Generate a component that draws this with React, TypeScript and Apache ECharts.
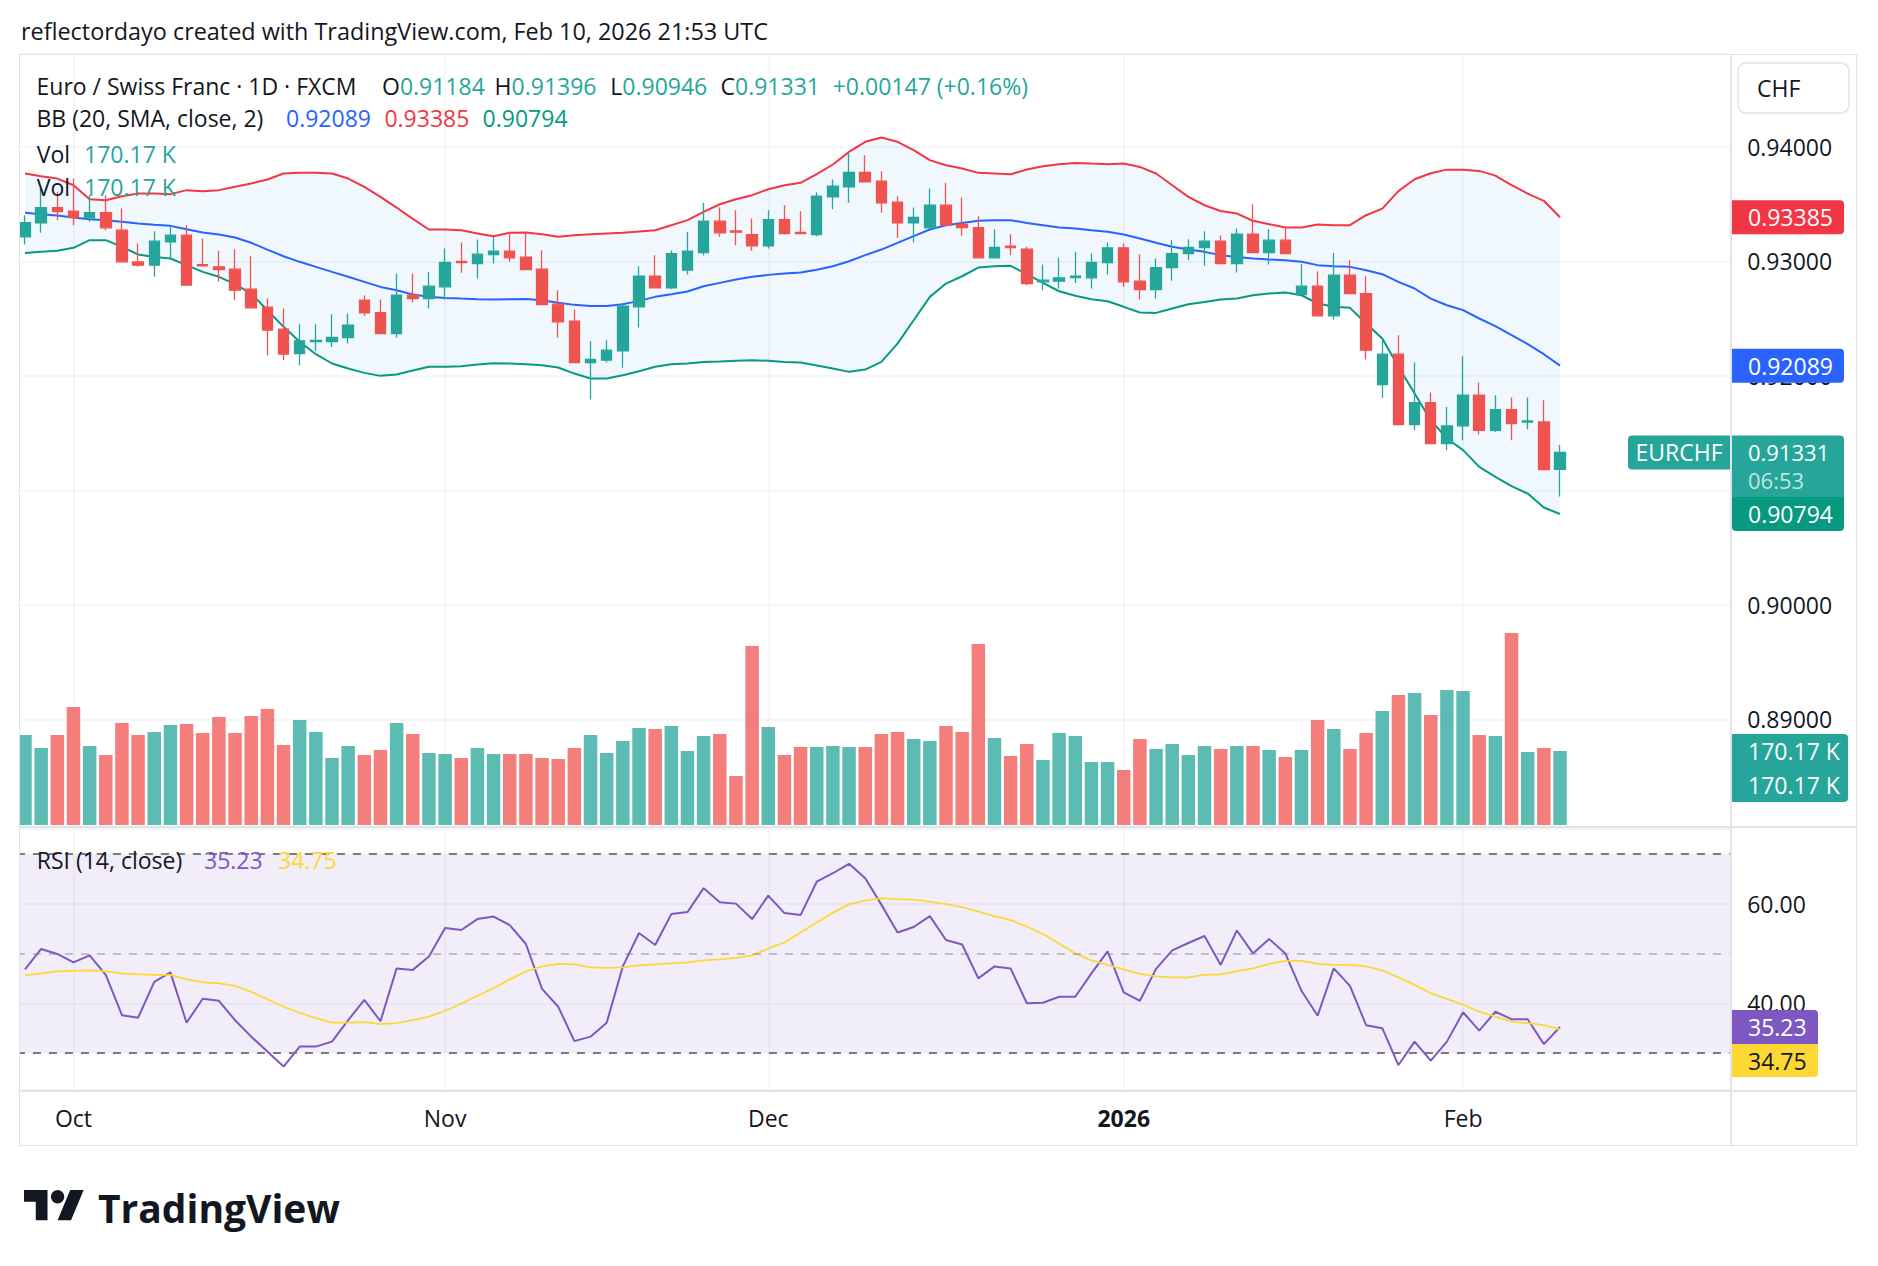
import React, { useEffect, useRef } from "react";
import * as echarts from "echarts";

// ---------- DATA ----------
const opens = [0.93214,0.93336,0.93470,0.93438,0.93380,0.93426,0.93272,0.92996,0.92967,0.93170,
0.93229,0.92972,0.92952,0.92932,0.92757,0.92600,0.92408,0.92195,0.92300,0.92300,
0.92335,0.92661,0.92553,0.92370,0.92704,0.92675,0.92777,0.92999,0.92981,0.93060,
0.93089,0.93036,0.92932,0.92626,0.92477,0.92116,0.92137,0.92218,0.92603,0.92870,
0.92769,0.92923,0.93077,0.93351,0.93266,0.93234,0.93135,0.93365,0.93252,0.93234,
0.93563,0.93650,0.93776,0.93700,0.93517,0.93336,0.93293,0.93491,0.93322,0.93295,
0.93031,0.93132,0.93106,0.92821,0.92827,0.92859,0.92856,0.92990,0.93118,0.92827,
0.92754,0.92946,0.93068,0.93121,0.93176,0.92981,0.93237,0.93077,0.93185,0.92710,
0.92783,0.92524,0.92879,0.92719,0.91924,0.92189,0.91575,0.91767,0.91409,0.91563,
0.91831,0.91525,0.91706,0.91596,0.91598,0.91184];

const highs = [0.93403,0.93636,0.93607,0.93723,0.93578,0.93578,0.93461,0.93156,0.93263,0.93301,
0.93316,0.93200,0.93092,0.93106,0.93045,0.92675,0.92588,0.92451,0.92451,0.92539,
0.92544,0.92704,0.92667,0.92894,0.92894,0.92908,0.93112,0.93164,0.93191,0.93214,
0.93258,0.93243,0.93098,0.92748,0.92579,0.92303,0.92311,0.92638,0.92958,0.93054,
0.93098,0.93258,0.93511,0.93470,0.93447,0.93374,0.93447,0.93491,0.93438,0.93604,
0.93715,0.93956,0.93927,0.93787,0.93569,0.93470,0.93636,0.93686,0.93557,0.93394,
0.93281,0.93237,0.93127,0.92972,0.93031,0.93083,0.93068,0.93164,0.93156,0.93060,
0.93025,0.93185,0.93194,0.93263,0.93229,0.93287,0.93499,0.93278,0.93287,0.92975,
0.92914,0.93074,0.93010,0.92870,0.92317,0.92355,0.92116,0.91854,0.91729,0.92172,
0.91942,0.91831,0.91811,0.91811,0.91787,0.91396];

const lows = [0.93147,0.93249,0.93360,0.93316,0.93345,0.93272,0.92996,0.92952,0.92865,0.93025,
0.92792,0.92955,0.92821,0.92661,0.92594,0.92180,0.92137,0.92093,0.92218,0.92253,
0.92282,0.92524,0.92370,0.92335,0.92640,0.92588,0.92667,0.92900,0.92850,0.92981,
0.92996,0.92929,0.92623,0.92335,0.92116,0.91793,0.92116,0.92070,0.92422,0.92769,
0.92757,0.92885,0.93054,0.93214,0.93141,0.93092,0.93112,0.93234,0.93243,0.93220,
0.93456,0.93511,0.93694,0.93424,0.93205,0.93164,0.93287,0.93316,0.93223,0.93031,
0.93022,0.93054,0.92792,0.92748,0.92763,0.92812,0.92763,0.92885,0.92777,0.92667,
0.92675,0.92830,0.93010,0.92961,0.92981,0.92902,0.93077,0.92972,0.93062,0.92703,
0.92524,0.92492,0.92719,0.92143,0.91808,0.91575,0.91525,0.91409,0.91351,0.91438,
0.91488,0.91510,0.91438,0.91534,0.91182,0.90946];

const closes = [0.93339,0.93470,0.93435,0.93383,0.93426,0.93293,0.92996,0.92967,0.93176,0.93229,
0.92792,0.92960,0.92929,0.92748,0.92594,0.92399,0.92189,0.92306,0.92309,0.92335,
0.92442,0.92550,0.92370,0.92704,0.92675,0.92783,0.92990,0.92990,0.93063,0.93089,
0.93031,0.92929,0.92623,0.92472,0.92116,0.92143,0.92224,0.92608,0.92870,0.92769,
0.93068,0.93089,0.93351,0.93249,0.93255,0.93135,0.93365,0.93243,0.93243,0.93569,
0.93656,0.93776,0.93694,0.93511,0.93336,0.93383,0.93491,0.93316,0.93295,0.93031,
0.93121,0.93121,0.92806,0.92835,0.92856,0.92870,0.92990,0.93118,0.92821,0.92754,
0.92946,0.93068,0.93121,0.93176,0.92981,0.93237,0.93077,0.93185,0.93068,0.92783,
0.92524,0.92879,0.92719,0.92224,0.92189,0.91575,0.91767,0.91409,0.91563,0.91831,
0.91525,0.91706,0.91584,0.91607,0.91182,0.91331];

// volume in thousands
const volumes = [207.0,177.1,207.0,271.3,181.7,161.0,234.5,207.0,213.9,230.0,
232.2,211.6,248.3,211.6,250.6,266.7,184.0,241.4,213.9,154.1,
181.7,161.0,172.5,234.5,209.3,165.6,163.3,154.1,177.1,163.3,
163.3,163.3,154.1,151.8,177.1,207.0,165.6,193.2,223.1,220.8,
227.6,170.2,204.7,209.3,112.7,411.6,225.4,161.0,179.4,179.4,
181.7,179.4,179.4,209.3,213.9,197.8,193.2,227.6,213.9,416.2,
200.1,158.7,186.3,149.5,211.6,204.7,144.9,144.9,126.5,197.8,
174.8,186.3,161.0,181.7,174.8,181.7,181.7,172.5,156.4,172.5,
241.4,220.8,174.8,211.6,262.1,298.9,303.5,252.9,310.4,308.1,
207.0,204.7,441.5,167.9,177.1,170.17];

const bbUpper = [0.93767,0.93744,0.93723,0.93665,0.93543,0.93534,0.93569,0.93592,0.93592,0.93587,
0.93622,0.93613,0.93622,0.93651,0.93680,0.93715,0.93767,0.93773,0.93773,0.93767,
0.93723,0.93651,0.93563,0.93470,0.93371,0.93278,0.93278,0.93272,0.93243,0.93220,
0.93249,0.93252,0.93237,0.93214,0.93229,0.93237,0.93243,0.93249,0.93261,0.93272,
0.93316,0.93360,0.93432,0.93499,0.93543,0.93578,0.93630,0.93665,0.93686,0.93761,
0.93846,0.93956,0.94044,0.94082,0.94044,0.93971,0.93884,0.93840,0.93811,0.93773,
0.93767,0.93761,0.93802,0.93831,0.93849,0.93860,0.93854,0.93849,0.93854,0.93825,
0.93767,0.93665,0.93563,0.93490,0.93440,0.93418,0.93354,0.93325,0.93295,0.93295,
0.93322,0.93316,0.93316,0.93403,0.93461,0.93613,0.93717,0.93770,0.93801,0.93801,
0.93790,0.93749,0.93665,0.93592,0.93529,0.93385];

const bbBasis = [0.93424,0.93412,0.93400,0.93383,0.93368,0.93360,0.93345,0.93330,0.93319,0.93310,
0.93281,0.93252,0.93234,0.93208,0.93162,0.93103,0.93045,0.92996,0.92952,0.92908,
0.92865,0.92821,0.92777,0.92748,0.92710,0.92690,0.92681,0.92675,0.92670,0.92667,
0.92670,0.92672,0.92661,0.92638,0.92620,0.92611,0.92611,0.92626,0.92655,0.92690,
0.92713,0.92737,0.92783,0.92812,0.92841,0.92865,0.92882,0.92894,0.92902,0.92926,
0.92958,0.93001,0.93054,0.93103,0.93162,0.93220,0.93278,0.93316,0.93336,0.93354,
0.93360,0.93360,0.93336,0.93316,0.93295,0.93287,0.93272,0.93258,0.93234,0.93199,
0.93162,0.93127,0.93103,0.93083,0.93054,0.93039,0.93025,0.93016,0.93010,0.92996,
0.92967,0.92958,0.92952,0.92923,0.92888,0.92821,0.92763,0.92675,0.92617,0.92574,
0.92501,0.92434,0.92355,0.92277,0.92189,0.92089];

const bbLower = [0.93074,0.93083,0.93092,0.93118,0.93185,0.93185,0.93127,0.93060,0.93039,0.93025,
0.92967,0.92908,0.92865,0.92801,0.92719,0.92573,0.92428,0.92297,0.92189,0.92108,
0.92064,0.92026,0.92000,0.92012,0.92047,0.92079,0.92079,0.92084,0.92099,0.92111,
0.92108,0.92102,0.92093,0.92073,0.92020,0.91977,0.91977,0.92006,0.92041,0.92079,
0.92102,0.92108,0.92122,0.92125,0.92131,0.92137,0.92131,0.92122,0.92116,0.92090,
0.92064,0.92035,0.92055,0.92122,0.92282,0.92486,0.92690,0.92806,0.92870,0.92946,
0.92958,0.92961,0.92888,0.92812,0.92739,0.92699,0.92670,0.92652,0.92603,0.92553,
0.92550,0.92588,0.92626,0.92646,0.92667,0.92675,0.92704,0.92719,0.92728,0.92704,
0.92632,0.92603,0.92594,0.92457,0.92326,0.92079,0.91846,0.91613,0.91453,0.91351,
0.91205,0.91118,0.91037,0.90972,0.90850,0.90794];

const rsi = [46.8,50.9,49.9,48.2,49.6,45.7,37.6,37.1,44.3,46.2,
36.1,40.9,40.5,36.6,33.3,30.3,27.3,31.3,31.3,32.3,
36.6,40.7,36.4,47.0,46.7,49.4,55.1,54.7,56.9,57.4,
55.7,51.9,42.9,39.3,32.4,33.3,36.1,47.4,54.1,51.7,
57.9,58.3,63.1,60.3,60.0,56.9,61.6,58.1,57.7,64.4,
66.1,68.0,65.1,59.8,54.2,55.3,57.5,52.7,51.8,45.0,
47.4,47.0,40.0,40.1,41.3,41.3,46.0,50.4,42.2,40.5,
46.9,50.6,52.1,53.5,47.7,54.6,50.0,52.9,50.0,42.5,
37.5,47.0,43.5,35.6,35.0,27.6,32.3,28.5,32.3,38.2,
34.5,38.3,36.8,36.8,31.8,35.23];

const rsiMa = [45.6,46.0,46.4,46.5,46.6,46.4,46.0,45.8,45.7,45.7,
44.8,44.2,44.0,43.5,42.3,40.8,39.3,38.1,37.0,36.1,
36.1,36.2,35.8,36.0,36.6,37.3,38.5,39.9,41.5,43.0,
44.8,46.4,47.4,47.9,47.8,47.2,47.1,47.2,47.6,47.8,
48.0,48.2,48.6,48.8,49.1,49.6,51.0,52.2,54.2,56.2,
58.2,59.9,60.6,61.1,60.9,60.8,60.4,59.9,59.3,58.4,
57.5,56.7,55.4,53.9,52.0,50.0,48.6,47.7,46.8,45.9,
45.4,45.2,45.2,45.7,45.8,46.4,47.0,47.9,48.5,48.5,
47.9,47.7,47.7,47.4,46.6,45.2,43.7,42.0,40.9,39.7,
38.3,37.3,36.3,36.0,35.6,34.75];

// time-axis tick labels (first trading day of each month)
const monthLabels: Record<string, string> = {
  "2025-10-01": "Oct",
  "2025-11-03": "Nov",
  "2025-12-01": "Dec",
  "2026-01-02": "2026",
  "2026-02-02": "Feb",
};

const rsiLevels = [70, 50, 30];
const hiddenPriceTicks = [0.91]; // fully covered by the last-price tag

// ---------- layout & style ----------
const W = 1878;
const H = 1266;
const NCAT = 106; // 96 bars + empty space on the right
const BAND = 16.158;
const FIRST_X = 25;
const GL = FIRST_X - BAND / 2;
const GW = BAND * NCAT;
const GW2 = BAND * (NCAT - 1);
const FONT = "'Open Sans', Roboto, sans-serif";
const INK = "#131722";
const UP = "#26a69a";
const DOWN = "#ef5350";
const BB_RED = "#f23645";
const BB_BLUE = "#2962ff";
const BB_GREEN = "#089981";
const PURPLE = "#7e57c2";
const YELLOW = "#fdd835";
const GRIDC = "#f0f3fa";
const FRAME = "#e0e3eb";

const TV_LOGO =
  "M14 22H7V11H0V4h14v18zM28 22h-8l7.5-18h8L28 22zM24 8a4 4 0 1 1 -8 0a4 4 0 1 1 8 0z";
echarts.graphic.registerShape("tvlogo", echarts.graphic.extendPath(TV_LOGO, {}));

function buildDates(): string[] {
  const out: string[] = [];
  const skip = new Set(["2025-12-25", "2026-01-01"]);
  const d = new Date(Date.UTC(2025, 8, 26));
  while (out.length < NCAT) {
    const wd = d.getUTCDay();
    const s = d.toISOString().slice(0, 10);
    if (wd !== 0 && wd !== 6 && !skip.has(s)) out.push(s);
    d.setUTCDate(d.getUTCDate() + 1);
  }
  return out;
}

function txt(x: number, y: number, text: string, fill: string, size = 23, extra: any = {}) {
  return {
    type: "text",
    x,
    y,
    z: 100,
    silent: true,
    style: {
      text,
      fill,
      fontSize: size,
      fontFamily: FONT,
      align: "left",
      verticalAlign: "middle",
      ...extra,
    },
  };
}

// "O0.91184"-style legend pair: black key letter followed by coloured value
function pair(x: number, y: number, key: string, value: string, color: string) {
  return {
    type: "text",
    x,
    y,
    z: 100,
    silent: true,
    style: {
      text: `{k|${key}}{v|${value}}`,
      fontSize: 23,
      fontFamily: FONT,
      align: "left",
      verticalAlign: "middle",
      rich: {
        k: { fill: INK, fontSize: 23, fontFamily: FONT },
        v: { fill: color, fontSize: 23, fontFamily: FONT },
      },
    },
  };
}

function box(x: number, y: number, w: number, h: number, fill: string, r: any = 0, stroke?: string) {
  return {
    type: "rect",
    z: 99,
    silent: true,
    shape: { x, y, width: w, height: h, r },
    style: stroke ? { fill, stroke, lineWidth: 1.5 } : { fill },
  };
}

function hline(x1: number, x2: number, y: number, w = 2, c = FRAME) {
  return { type: "line", z: 98, silent: true, shape: { x1, y1: y, x2, y2: y }, style: { stroke: c, lineWidth: w } };
}
function vline(x: number, y1: number, y2: number, w = 2, c = FRAME) {
  return { type: "line", z: 98, silent: true, shape: { x1: x, y1, x2: x, y2 }, style: { stroke: c, lineWidth: w } };
}

export default function App() {
  const ref = useRef<HTMLDivElement>(null);

  useEffect(() => {
    const el = ref.current;
    if (!el) return;
    const chart = echarts.init(el, null, { renderer: "svg", width: W, height: H });
    const dates = buildDates();
    const isMonth = (_i: number, v: string) => !!monthLabels[v];

    const candleData = opens.map((o, i) => [o, closes[i], lows[i], highs[i]]);
    const volData = volumes.map((v, i) => ({
      value: v,
      itemStyle: { color: closes[i] >= opens[i] ? "rgba(38,166,154,0.75)" : "rgba(239,83,80,0.75)" },
    }));
    const bandWidth = bbUpper.map((u, i) => u - bbLower[i]);

    const lineS = (data: number[], color: string, width: number, xi: number, yi: number, z: number) => ({
      type: "line",
      data,
      xAxisIndex: xi,
      yAxisIndex: yi,
      symbol: "none",
      silent: true,
      z,
      lineStyle: { color, width },
      itemStyle: { color },
    });

    const option: any = {
      animation: false,
      backgroundColor: "#ffffff",
      textStyle: { fontFamily: FONT },
      grid: [
        { left: GL, top: 54, width: GW, height: 773 },
        { left: FIRST_X, top: 54, width: GW2, height: 771 },
        { left: GL, top: 829, width: GW, height: 261 },
        { left: FIRST_X, top: 829, width: GW2, height: 261 },
      ],
      xAxis: [
        { gridIndex: 0, type: "category", data: dates, boundaryGap: true, show: false },
        {
          gridIndex: 1,
          type: "category",
          data: dates,
          boundaryGap: false,
          axisLine: { show: false },
          axisTick: { show: false },
          axisLabel: { show: false },
          splitLine: { show: true, interval: isMonth, lineStyle: { color: GRIDC, width: 1.5 } },
        },
        { gridIndex: 2, type: "category", data: dates, boundaryGap: true, show: false },
        {
          gridIndex: 3,
          type: "category",
          data: dates,
          boundaryGap: false,
          axisLine: { show: false },
          axisTick: { show: false },
          axisLabel: {
            interval: isMonth,
            margin: 16,
            color: INK,
            fontSize: 23,
            fontFamily: FONT,
            formatter: (v: string) => {
              const m = monthLabels[v] || "";
              return m === "2026" ? "{b|2026}" : m;
            },
            rich: { b: { fontWeight: "bold", fontSize: 23, color: INK, fontFamily: FONT } },
          },
          splitLine: { show: true, interval: isMonth, lineStyle: { color: GRIDC, width: 1.5 } },
        },
      ],
      yAxis: [
        {
          gridIndex: 0,
          type: "value",
          position: "right",
          min: 0.8806,
          max: 0.94811,
          minInterval: 0.01,
          maxInterval: 0.01,
          axisLine: { show: false },
          axisTick: { show: false },
          axisLabel: {
            showMinLabel: false,
            showMaxLabel: false,
            margin: 17.5,
            color: INK,
            fontSize: 23,
            fontFamily: FONT,
            formatter: (v: number) =>
              hiddenPriceTicks.some((h) => Math.abs(h - v) < 1e-7) ? "" : v.toFixed(5),
          },
          splitLine: { lineStyle: { color: GRIDC, width: 1.5 } },
        },
        { gridIndex: 1, type: "value", min: 0, max: 1773, show: false },
        {
          gridIndex: 2,
          type: "value",
          position: "right",
          min: 22.59,
          max: 74.98,
          minInterval: 20,
          maxInterval: 20,
          axisLine: { show: false },
          axisTick: { show: false },
          axisLabel: {
            showMinLabel: false,
            showMaxLabel: false,
            margin: 17.5,
            color: INK,
            fontSize: 23,
            fontFamily: FONT,
            formatter: (v: number) => v.toFixed(2),
          },
          splitLine: { lineStyle: { color: "rgba(42,46,57,0.07)", width: 1.5 } },
        },
        { gridIndex: 3, type: "value", min: 0, max: 1, show: false },
      ],
      series: [
        {
          type: "bar",
          name: "Vol",
          xAxisIndex: 1,
          yAxisIndex: 1,
          data: volData,
          barWidth: 13.5,
          silent: true,
          z: 1,
        },
        {
          type: "line",
          name: "bbBase",
          xAxisIndex: 0,
          yAxisIndex: 0,
          data: bbLower,
          stack: "bb",
          symbol: "none",
          silent: true,
          z: 2,
          lineStyle: { opacity: 0 },
        },
        {
          type: "line",
          name: "bbFill",
          xAxisIndex: 0,
          yAxisIndex: 0,
          data: bandWidth,
          stack: "bb",
          symbol: "none",
          silent: true,
          z: 2,
          lineStyle: { opacity: 0 },
          areaStyle: { color: "rgba(33,150,243,0.065)", opacity: 1 },
        },
        lineS(bbUpper, BB_RED, 2, 0, 0, 3),
        lineS(bbBasis, BB_BLUE, 2, 0, 0, 3),
        lineS(bbLower, BB_GREEN, 2, 0, 0, 3),
        {
          type: "candlestick",
          name: "EURCHF",
          xAxisIndex: 0,
          yAxisIndex: 0,
          data: candleData,
          barWidth: 11,
          silent: true,
          z: 5,
          itemStyle: {
            color: UP,
            color0: DOWN,
            borderColor: UP,
            borderColor0: DOWN,
            borderWidth: 1.3,
          },
        },
        {
          type: "line",
          name: "rsiBands",
          xAxisIndex: 2,
          yAxisIndex: 2,
          data: rsi,
          symbol: "none",
          silent: true,
          z: 1,
          lineStyle: { opacity: 0 },
          markArea: {
            silent: true,
            itemStyle: { color: "rgba(126,87,194,0.1)" },
            data: [[{ yAxis: 30 }, { yAxis: 70 }]],
          },
          markLine: {
            silent: true,
            symbol: ["none", "none"],
            label: { show: false },
            data: rsiLevels.map((lv) => ({
              yAxis: lv,
              lineStyle: {
                color: lv === 50 ? "rgba(120,123,134,0.55)" : "#787b86",
                width: lv === 50 ? 1.5 : 2,
                type: [8, 8],
              },
            })),
          },
        },
        lineS(rsi, PURPLE, 2, 2, 2, 3),
        lineS(rsiMa, YELLOW, 1.8, 2, 2, 4),
      ],
    };

    chart.setOption(option);

    const yP = (v: number) => chart.convertToPixel({ yAxisIndex: 0 }, v) as number;
    const yV = (v: number) => chart.convertToPixel({ yAxisIndex: 1 }, v) as number;
    const yR = (v: number) => chart.convertToPixel({ yAxisIndex: 2 }, v) as number;

    const n = closes.length - 1;
    const lastUpper = bbUpper[n];
    const lastBasis = bbBasis[n];
    const lastLower = bbLower[n];
    const lastClose = closes[n];
    const lastVol = volumes[n];
    const lastRsi = rsi[n];
    const lastMa = rsiMa[n];

    const yu = yP(lastUpper);
    const yb = yP(lastBasis);
    const yc = yP(lastClose);
    const yl = yP(lastLower);
    const yv = yV(lastVol);
    const yr = yR(lastRsi);

    const AX = 1732;
    const TX = 1748;
    const elements: any[] = [
      // covers & frame
      { type: "rect", z: 97, silent: true, shape: { x: 0, y: 50, width: 19, height: 1100 }, style: { fill: "#ffffff" } },
      { type: "rect", z: 98, silent: true, shape: { x: 19.5, y: 54.5, width: 1837, height: 1091 }, style: { fill: "none", stroke: FRAME, lineWidth: 1 } },
      vline(1731, 54, 1146),
      hline(19, 1857, 827),
      hline(19, 1857, 1091),

      // top caption
      txt(21, 31, "reflectordayo created with TradingView.com, Feb 10, 2026 21:53 UTC", INK, 23.4),

      // legend line 1
      txt(36.5, 85.5, "Euro / Swiss Franc · 1D · FXCM", INK),
      pair(382, 85.5, "O", opens[n].toFixed(5), UP),
      pair(494.6, 85.5, "H", highs[n].toFixed(5), UP),
      pair(610.3, 85.5, "L", lows[n].toFixed(5), UP),
      pair(720.5, 85.5, "C", lastClose.toFixed(5), UP),
      txt(832.7, 85.5, "+0.00147 (+0.16%)", UP),

      // BB legend
      txt(36.5, 118.3, "BB (20, SMA, close, 2)", INK),
      txt(286, 118.3, lastBasis.toFixed(5), BB_BLUE),
      txt(384.4, 118.3, lastUpper.toFixed(5), BB_RED),
      txt(482.6, 118.3, lastLower.toFixed(5), BB_GREEN),

      // Vol legends
      txt(36.7, 153.5, "Vol", INK),
      txt(84, 153.5, "170.17 K", UP),
      txt(36.7, 187, "Vol", INK),
      txt(84, 187, "170.17 K", UP),

      // RSI legend
      txt(36.7, 859.5, "RSI (14, close)", INK),
      txt(204, 859.5, lastRsi.toFixed(2), PURPLE),
      txt(278, 859.5, lastMa.toFixed(2), YELLOW),

      // currency button
      box(1738, 63, 111, 50, "#ffffff", 8, FRAME),
      txt(1757, 88, "CHF", INK, 23),

      // price axis tags
      box(AX, yu - 17, 112, 34, BB_RED, [0, 4, 4, 0]),
      txt(TX, yu, lastUpper.toFixed(5), "#ffffff"),
      box(AX, yb - 17, 112, 34, BB_BLUE, [0, 4, 4, 0]),
      txt(TX, yb, lastBasis.toFixed(5), "#ffffff"),
      box(1628, yc - 17, 102, 34, UP, [4, 0, 0, 4]),
      txt(1679, yc, "EURCHF", "#ffffff", 23, { align: "center" }),
      box(AX, yc - 17, 112, 62, UP, [0, 4, 0, 0]),
      txt(TX, yc - 0.5, lastClose.toFixed(5), "#ffffff", 22),
      txt(TX, yc + 27.5, "06:53", "rgba(255,255,255,0.72)", 22),
      box(AX, yl - 17, 112, 34, BB_GREEN, [0, 0, 4, 4]),
      txt(TX, yl, lastLower.toFixed(5), "#ffffff"),

      // volume tags
      box(AX, yv - 17, 116, 68, UP, [0, 4, 4, 0]),
      txt(TX, yv, "170.17 K", "#ffffff"),
      txt(TX, yv + 34, "170.17 K", "#ffffff"),

      // RSI tags
      box(AX, yr - 17, 86, 34, PURPLE, [0, 4, 0, 0]),
      txt(TX, yr, lastRsi.toFixed(2), "#ffffff"),
      box(AX, yr + 17, 86, 33, YELLOW, [0, 0, 4, 0]),
      txt(TX, yr + 33.5, lastMa.toFixed(2), INK),

      // TradingView logo
      { type: "tvlogo", z: 100, silent: true, x: 24, y: 1183.3, scaleX: 1.68, scaleY: 1.68, style: { fill: INK } },
      txt(98, 1207, "TradingView", INK, 39, { fontWeight: "bold" }),
    ];

    chart.setOption({ graphic: { elements } });

    return () => {
      chart.dispose();
    };
  }, []);

  return (
    <div
      ref={ref}
      style={{ position: "fixed", left: 0, top: 0, width: W, height: H, background: "#ffffff" }}
    />
  );
}
